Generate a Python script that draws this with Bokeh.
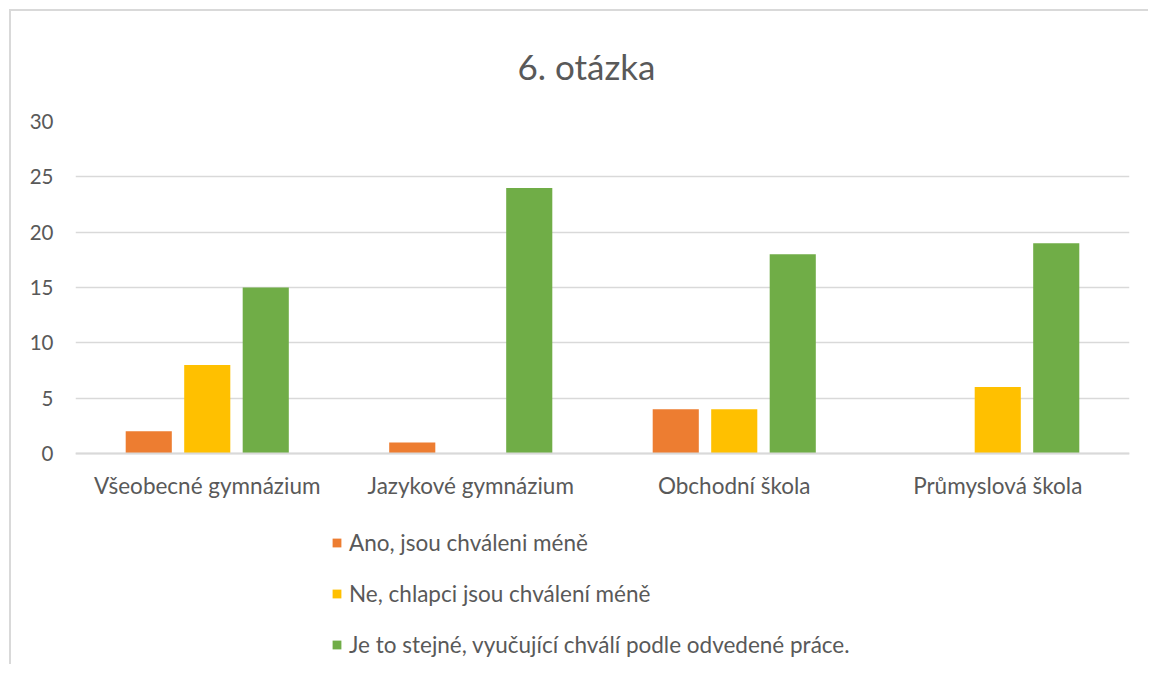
from bokeh.plotting import figure
from bokeh.models import Legend, LegendItem, FixedTicker, ColumnDataSource
from bokeh.transform import dodge
from bokeh.embed import file_html
from bokeh.resources import INLINE

categories = ["Všeobecné gymnázium", "Jazykové gymnázium", "Obchodní škola", "Průmyslová škola"]
series_names = ["Ano, jsou chváleni méně", "Ne, chlapci jsou chválení méně",
                "Je to stejné, vyučující chválí podle odvedené práce."]
ano = [2, 1, 4, 0]
ne = [8, 0, 4, 6]
stejne = [15, 24, 18, 19]
colors = ["#ED7D31", "#FFC000", "#70AD47"]
y_ticks = [0, 5, 10, 15, 20, 25, 30]

source = ColumnDataSource(dict(cat=categories, ano=ano, ne=ne, stejne=stejne))

FONT = "Lato"
TXT = "#595959"

# figure sits inside a chart-area border drawn as a box-shadow on its left/top edges
W, H = 1139, 655
FRAME_TOP = 110
FRAME_H = H - FRAME_TOP
AXIS_PX = 332  # pixels for 0..30
y_max = y_ticks[-1]
y_min = y_max - y_max * FRAME_H / AXIS_PX

p = figure(x_range=categories, y_range=(y_min, y_max), width=W, height=H,
           output_backend="svg", toolbar_location=None,
           min_border_left=64, min_border_right=W - 64 - 1054, min_border_top=FRAME_TOP,
           min_border_bottom=0)
p.styles = {"box-shadow": "-2px -2px 0px 0px #D9D9D9",
            "margin-left": "11px", "margin-top": "11px"}

p.title.text = "6. otázka"
p.title.align = "left"
p.title.vertical_align = "top"
p.title.offset = 442
p.title.standoff = 65
p.title.text_font = FONT
p.title.text_font_style = "normal"
p.title.text_font_size = "35px"
p.title.text_color = TXT

renderers = []
offsets = [-0.222, 0.0, 0.222]
for col, off, c in zip(["ano", "ne", "stejne"], offsets, colors):
    r = p.vbar(x=dodge("cat", off, range=p.x_range), top=col, width=0.175,
               source=source, fill_color=c, line_color=None)
    renderers.append(r)

items = [LegendItem(label=n, renderers=[r]) for n, r in zip(series_names, renderers)]
legend = Legend(items=items, orientation="vertical", location=(256, 8),
                border_line_color=None, background_fill_alpha=0,
                label_text_font=FONT, label_text_font_size="22.5px", label_text_color=TXT,
                glyph_width=11, glyph_height=11, label_standoff=7,
                spacing=24, padding=0, margin=0, label_height=20)
p.add_layout(legend, "center")

p.outline_line_color = None
p.xgrid.grid_line_color = None
p.ygrid.grid_line_color = "#D9D9D9"
p.ygrid.grid_line_width = 1.5
p.yaxis.ticker = FixedTicker(ticks=y_ticks)
p.yaxis.axis_line_color = None
p.yaxis.major_tick_line_color = None
p.yaxis.minor_tick_line_color = None
p.yaxis.major_label_standoff = 16
p.yaxis.major_label_text_font = FONT
p.yaxis.major_label_text_font_size = "20.5px"
p.yaxis.major_label_text_color = TXT

p.xaxis.fixed_location = 0
p.xaxis.axis_line_color = "#D9D9D9"
p.xaxis.axis_line_width = 2
p.xaxis.major_tick_line_color = None
p.xaxis.minor_tick_line_color = None
p.xaxis.major_label_standoff = 12
p.xaxis.major_label_text_font = FONT
p.xaxis.major_label_text_font_size = "22.5px"
p.xaxis.major_label_text_color = TXT

open("out.html", "w").write(file_html(p, INLINE))
